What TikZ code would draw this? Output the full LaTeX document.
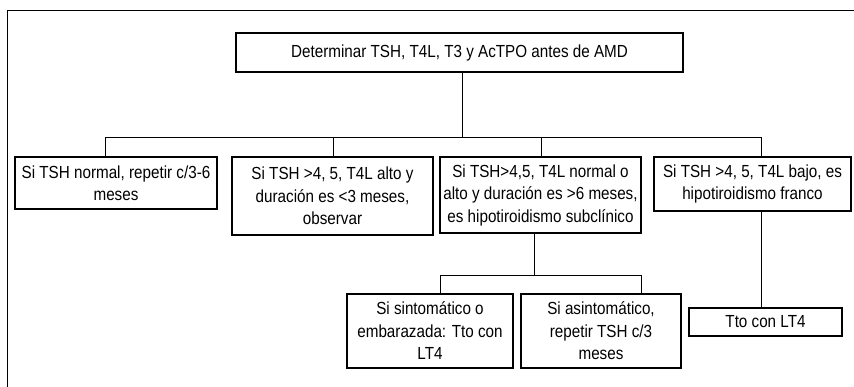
\documentclass[tikz,border=0pt]{standalone}
\usepackage{fontspec}
\setmainfont{Liberation Sans}[FakeStretch=0.87]
\begin{document}
\begin{tikzpicture}[x=1pt,y=-1pt,
  box/.style={draw,line width=1.1pt,align=center,inner sep=1pt,
    font=\fontsize{17.5}{22.5}\selectfont},
  link/.style={draw,line width=1pt},
  frame/.style={draw,line width=1pt}]
\useasboundingbox (0,0) rectangle (854,386);
\draw[frame] (7.5,400) -- (7.5,10.5) -- (870,10.5);
\node[box,minimum width=447pt,minimum height=39pt] (top) at (459.5,52.5) {Determinar TSH, T4L, T3 y AcTPO antes de AMD};
\node[box,minimum width=202pt,minimum height=52pt] (b1) at (116,183) {Si TSH normal, repetir c/3-6\\meses};
\node[box,minimum width=201pt,minimum height=78pt] (b2) at (332.5,196) {Si TSH >4, 5, T4L alto y\\duración es <3 meses,\\observar};
\node[box,minimum width=201pt,minimum height=76pt] (b3) at (540.5,195) {Si TSH>4,5, T4L normal o\\alto y duración es >6 meses,\\es hipotiroidismo subclínico};
\node[box,minimum width=197pt,minimum height=54pt] (b4) at (752.5,184) {Si TSH >4, 5, T4L bajo, es\\hipotiroidismo franco};
\node[box,minimum width=166pt,minimum height=74pt] (sa) at (430,331) {Si sintomático o\\embarazada: Tto con\\LT4};
\node[box,minimum width=160pt,minimum height=74pt] (sb) at (601,331) {Si asintomático,\\repetir TSH c/3\\meses};
\node[box,minimum width=153pt,minimum height=28pt] (tto) at (765.5,322) {Tto con LT4};
\coordinate (j0) at (462,137);
\coordinate (h1) at (105,137);
\coordinate (h2) at (333,137);
\coordinate (h3) at (541,137);
\coordinate (h4) at (761,137);
\coordinate (j1) at (534,275);
\coordinate (ha) at (440,275);
\coordinate (hb) at (641,275);
\draw[link] (top.south -| j0) -- (j0);
\draw[link] (h1) -- (h4);
\draw[link] (h1) -- (h1 |- b1.north);
\draw[link] (h2) -- (h2 |- b2.north);
\draw[link] (h3) -- (h3 |- b3.north);
\draw[link] (h4) -- (h4 |- b4.north);
\draw[link] (b3.south -| j1) -- (j1);
\draw[link] (ha) -- (hb);
\draw[link] (ha) -- (ha |- sa.north);
\draw[link] (hb) -- (hb |- sb.north);
\draw[link] (b4.south -| h4) -- (h4 |- tto.north);
\end{tikzpicture}
\end{document}
